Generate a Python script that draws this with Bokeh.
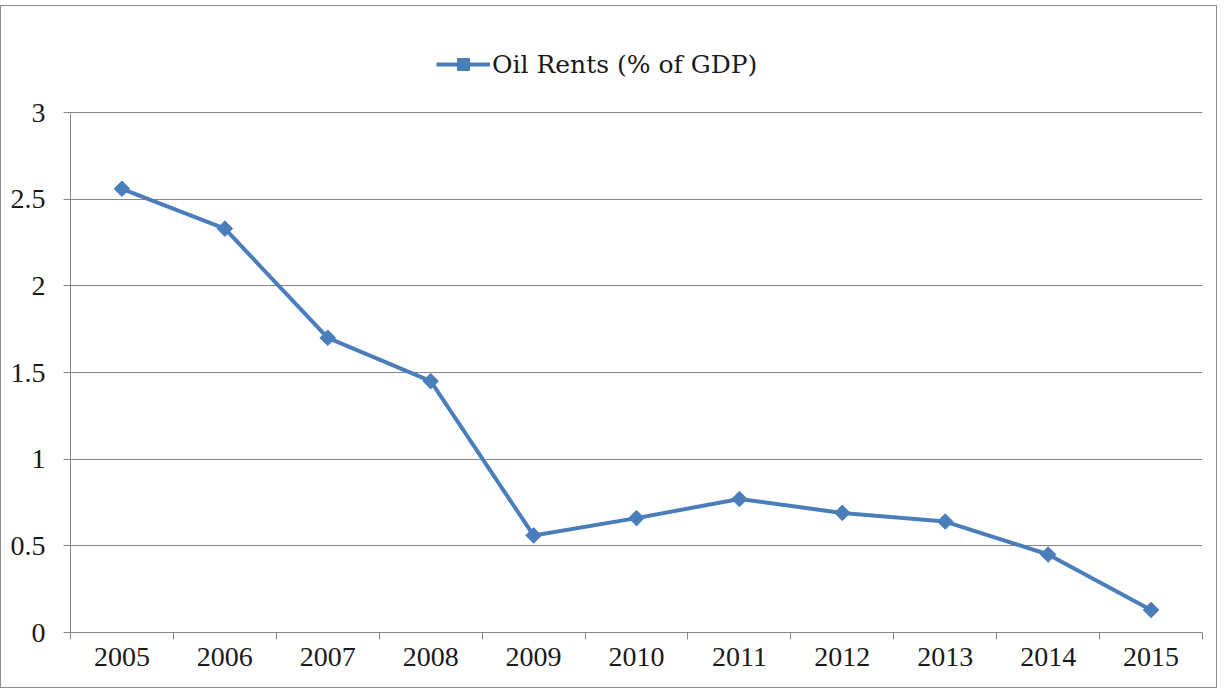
import math
from bokeh.plotting import figure
from bokeh.models import FixedTicker, Legend, LegendItem, Range1d
from bokeh.embed import file_html
from bokeh.resources import INLINE

years = [2005, 2006, 2007, 2008, 2009, 2010, 2011, 2012, 2013, 2014, 2015]
oil_rents = [2.56, 2.33, 1.70, 1.45, 0.56, 0.66, 0.77, 0.69, 0.64, 0.45, 0.13]
y_ticks = [0, 0.5, 1, 1.5, 2, 2.5, 3]
y_labels = ["0", "0.5", "1", "1.5", "2", "2.5", "3"]
series_name = "Oil Rents (% of GDP)"

FONT = "'Liberation Serif', 'Times New Roman', serif"
GRID = "#868686"
BLUE = "#4a7ebb"
TXT = "#1a1a1a"

# layout geometry (pixels)
FIG_W, FIG_H = 1217, 683
BORDER_BOTTOM = 57
PLOT_AREA_H = 520          # height used by the 0..3 value span
frame_h = FIG_H - BORDER_BOTTOM
y_max = y_ticks[-1]
y_end = y_max * frame_h / PLOT_AREA_H   # headroom above the top gridline holds the legend

p = figure(width=FIG_W, height=FIG_H, output_backend="svg", toolbar_location=None,
           x_range=Range1d(years[0] - 0.5, years[-1] + 0.5), y_range=Range1d(0, y_end),
           min_border_left=69, min_border_right=16, min_border_top=0,
           min_border_bottom=BORDER_BOTTOM)
p.margin = (5, 0, 0, 0)
p.styles = {"border": "1px solid #8c8c8c"}
p.outline_line_color = None
p.background_fill_color = "white"

ln = p.line(years, oil_rents, line_color=BLUE, line_width=4)
mk = p.scatter(years, oil_rents, marker="square", angle=math.pi / 4, size=11,
               fill_color=BLUE, line_color=BLUE)

# x axis: labels at year centres, tick marks between years
xa = p.xaxis[0]
xa.ticker = FixedTicker(ticks=years, minor_ticks=[y - 0.5 for y in years] + [years[-1] + 0.5])
xa.major_label_overrides = {y: str(y) for y in years}
xa.major_tick_line_color = None
xa.minor_tick_out = 7
xa.minor_tick_in = 0
xa.minor_tick_line_color = GRID
xa.axis_line_color = GRID
xa.major_label_text_font = FONT
xa.major_label_text_font_size = "28px"
xa.major_label_text_color = TXT
xa.major_label_standoff = 8

ya = p.yaxis[0]
ya.ticker = FixedTicker(ticks=y_ticks)
ya.bounds = (y_ticks[0], y_ticks[-1])
ya.major_label_overrides = {t: l for t, l in zip(y_ticks, y_labels)}
ya.major_tick_out = 7
ya.major_tick_in = 0
ya.major_tick_line_color = GRID
ya.minor_tick_line_color = None
ya.axis_line_color = GRID
ya.major_label_text_font = FONT
ya.major_label_text_font_size = "28px"
ya.major_label_text_color = TXT
ya.major_label_standoff = 18

p.xgrid.grid_line_color = None
p.ygrid.grid_line_color = GRID
p.ygrid.grid_line_width = 1

legend = Legend(items=[LegendItem(label=series_name, renderers=[ln, mk])],
                location=(366, 553), orientation="horizontal",
                label_text_font="DejaVu Serif", label_text_font_size="25px",
                label_text_color=TXT,
                glyph_width=54, glyph_height=30, border_line_color=None,
                background_fill_alpha=0, padding=0, margin=0, label_standoff=2)
p.add_layout(legend, "center")

open("out.html", "w").write(file_html(p, INLINE))
